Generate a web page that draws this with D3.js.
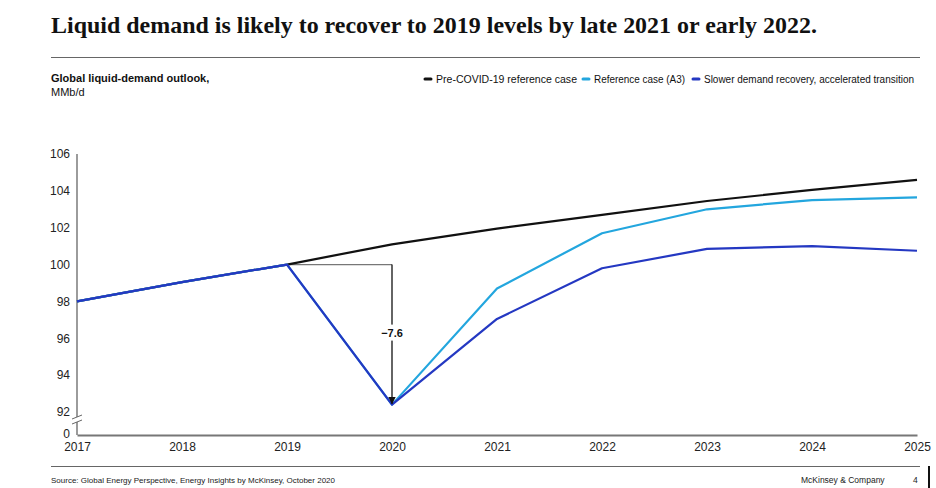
<!DOCTYPE html>
<html><head><meta charset="utf-8">
<script src="https://cdn.jsdelivr.net/npm/d3@7"></script>
<style>
body{margin:0;background:#fff;}
svg{display:block;font-family:"Liberation Sans",Arial,sans-serif;}
</style></head>
<body><svg id="c" width="936" height="488"></svg>
<script>
const years = [2017, 2018, 2019, 2020, 2021, 2022, 2023, 2024, 2025];
const preCovid = [98, 99.05, 100, 101.1, 101.95, 102.7, 103.45, 104.05, 104.6];
const referenceA3 = [98, 99.05, 100, 92.4, 98.7, 101.7, 103.0, 103.5, 103.65];
const slower = [98, 99.05, 100, 92.4, 97.05, 99.8, 100.85, 101.0, 100.75];
const yTicks = [92, 94, 96, 98, 100, 102, 104, 106];
const seriesNames = ["Pre-COVID-19 reference case", "Reference case (A3)", "Slower demand recovery, accelerated transition"];
const seriesColors = ["#111111", "#23a6de", "#2438c2"];
const dropLabel = "\u22127.6";

const svg = d3.select("#c");
// title
svg.append("text").attr("x", 51).attr("y", 33)
  .attr("font-family", "'Liberation Serif','DejaVu Serif',serif").attr("font-weight", "bold")
  .attr("font-size", 22.5).attr("textLength", 766).attr("lengthAdjust", "spacingAndGlyphs")
  .attr("fill", "#111").text("Liquid demand is likely to recover to 2019 levels by late 2021 or early 2022.");
svg.append("line").attr("x1", 51).attr("x2", 920).attr("y1", 57.5).attr("y2", 57.5).attr("stroke", "#666").attr("stroke-width", 1.2);
svg.append("text").attr("x", 51).attr("y", 82).attr("font-size", 11).attr("font-weight", "bold").attr("fill", "#111").text("Global liquid-demand outlook,");
svg.append("text").attr("x", 51).attr("y", 96).attr("font-size", 11).attr("fill", "#111").text("MMb/d");

// legend
const legX = [425, 583, 693];
const legW = [141, 91, 210];
seriesNames.forEach((n, i) => {
  svg.append("line").attr("x1", legX[i]).attr("x2", legX[i] + 6).attr("y1", 79).attr("y2", 79)
    .attr("stroke", seriesColors[i]).attr("stroke-width", 3).attr("stroke-linecap", "round");
  svg.append("text").attr("x", legX[i] + 11).attr("y", 82.5).attr("font-size", 10)
    .attr("textLength", legW[i]).attr("lengthAdjust", "spacingAndGlyphs")
    .attr("fill", "#111").text(n);
});

// scales
const x = d3.scaleLinear().domain([2017, 2025]).range([77, 917]);
const y = d3.scaleLinear().domain([92, 106]).range([412, 154]);
const baseY = 435;

// y axis
const yAxis = d3.axisLeft(y).tickValues(yTicks).tickSize(0).tickPadding(7);
const gy = svg.append("g").attr("transform", "translate(77,0)").call(yAxis);
gy.select(".domain").remove();
gy.selectAll("text").attr("font-size", 12).attr("fill", "#222").attr("font-family", "'Liberation Sans',Arial,sans-serif");
svg.append("line").attr("x1", 77).attr("x2", 77).attr("y1", y(106)).attr("y2", 417).attr("stroke", "#666").attr("stroke-width", 1.3);
svg.append("line").attr("x1", 77).attr("x2", 77).attr("y1", 422).attr("y2", baseY).attr("stroke", "#666").attr("stroke-width", 1.3);
[417, 422].forEach(v => svg.append("line").attr("x1", 72).attr("x2", 82).attr("y1", v + 2).attr("y2", v - 2).attr("stroke", "#666").attr("stroke-width", 1));
svg.append("text").attr("x", 70).attr("y", baseY + 3).attr("text-anchor", "end").attr("font-size", 12).attr("fill", "#222").text("0");

// x axis
const xAxis = d3.axisBottom(x).tickValues(years).tickFormat(d3.format("d")).tickSize(0).tickPadding(7);
const gx = svg.append("g").attr("transform", `translate(0,${baseY})`).call(xAxis);
gx.select(".domain").attr("stroke", "#777").attr("stroke-width", 2);
gx.selectAll("text").attr("font-size", 12).attr("fill", "#222").attr("font-family", "'Liberation Sans',Arial,sans-serif");

// annotation
const i19 = years.indexOf(2019), i20 = years.indexOf(2020);
svg.append("line").attr("x1", x(2019)).attr("x2", x(2020)).attr("y1", y(slower[i19])).attr("y2", y(slower[i19])).attr("stroke", "#777").attr("stroke-width", 1.2);

// lines
const line = d3.line().x((d, i) => x(years[i])).y(d => y(d));
[preCovid, referenceA3, slower].forEach((s, k) => {
  svg.append("path").attr("d", line(s)).attr("fill", "none").attr("stroke", seriesColors[k]).attr("stroke-width", 2.2).attr("stroke-linejoin", "round");
});

// arrow
svg.append("defs").append("marker").attr("id", "ah").attr("viewBox", "0 0 10 10").attr("refX", 9).attr("refY", 5)
  .attr("markerWidth", 6).attr("markerHeight", 6).attr("orient", "auto")
  .append("path").attr("d", "M0,0 L10,5 L0,10 z").attr("fill", "#111");
svg.append("line").attr("x1", x(2020)).attr("x2", x(2020)).attr("y1", y(slower[i19])).attr("y2", y(slower[i20]) - 1)
  .attr("stroke", "#111").attr("stroke-width", 1.3).attr("marker-end", "url(#ah)");
const midY = y((slower[i19] + slower[i20]) / 2) - 1;
svg.append("rect").attr("x", x(2020) - 14).attr("y", midY - 9).attr("width", 28).attr("height", 16).attr("fill", "#fff");
svg.append("text").attr("x", x(2020)).attr("y", midY + 3).attr("text-anchor", "middle").attr("font-size", 11).attr("font-weight", "bold").attr("fill", "#111").text(dropLabel);

// footer
svg.append("line").attr("x1", 51).attr("x2", 920).attr("y1", 466.5).attr("y2", 466.5).attr("stroke", "#666").attr("stroke-width", 1.2);
svg.append("text").attr("x", 51).attr("y", 483).attr("font-size", 7.5).attr("textLength", 284).attr("lengthAdjust", "spacingAndGlyphs").attr("fill", "#222").text("Source: Global Energy Perspective, Energy Insights by McKinsey, October 2020");
svg.append("text").attr("x", 801).attr("y", 483).attr("font-size", 8.5).attr("fill", "#222").text("McKinsey & Company");
svg.append("text").attr("x", 913).attr("y", 483).attr("font-size", 8.5).attr("fill", "#222").text("4");
svg.append("rect").attr("x", 928).attr("y", 466).attr("width", 2).attr("height", 22).attr("fill", "#111");
</script></body></html>
